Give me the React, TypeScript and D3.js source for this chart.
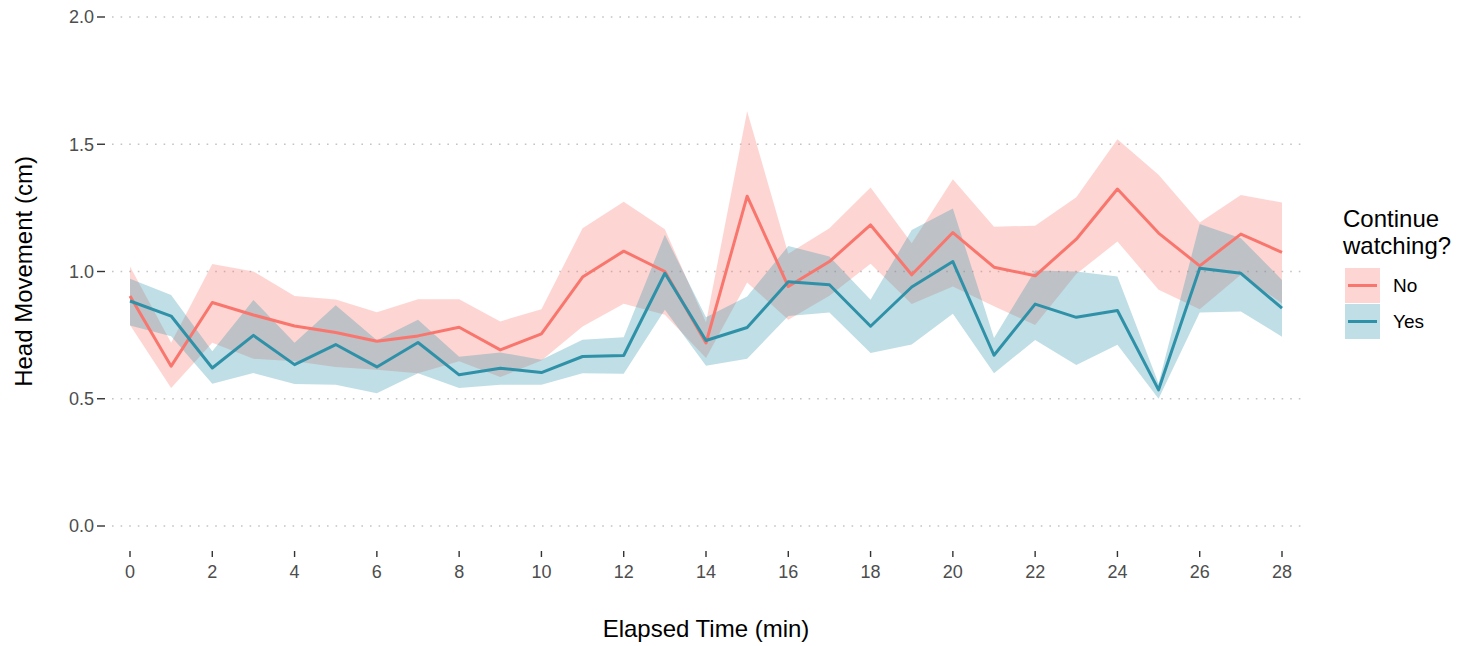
import { useMemo } from "react";
import * as d3 from "d3";

// elapsed minutes
const minutes = [0, 1, 2, 3, 4, 5, 6, 7, 8, 9, 10, 11, 12, 13, 14, 15, 16, 17, 18, 19, 20, 21, 22, 23, 24, 25, 26, 27, 28];

// "No" group: mean + ribbon
const noMean = [0.904, 0.628, 0.878, 0.829, 0.786, 0.76, 0.726, 0.747, 0.781, 0.692, 0.755, 0.978, 1.08, 1.0, 0.719, 1.296, 0.941, 1.039, 1.183, 0.987, 1.153, 1.017, 0.983, 1.127, 1.324, 1.151, 1.022, 1.147, 1.075];
const noUpper = [1.02, 0.72, 1.029, 1.0, 0.904, 0.89, 0.84, 0.891, 0.891, 0.804, 0.852, 1.17, 1.274, 1.166, 0.8, 1.63, 1.07, 1.17, 1.33, 1.111, 1.362, 1.176, 1.18, 1.292, 1.52, 1.38, 1.193, 1.301, 1.271];
const noLower = [0.79, 0.542, 0.72, 0.657, 0.647, 0.625, 0.614, 0.6, 0.647, 0.585, 0.65, 0.784, 0.873, 0.83, 0.66, 0.957, 0.81, 0.905, 1.03, 0.872, 0.941, 0.863, 0.79, 0.99, 1.118, 0.928, 0.852, 0.987, 0.875];

// "Yes" group
const yesMean = [0.884, 0.825, 0.621, 0.749, 0.634, 0.713, 0.625, 0.721, 0.594, 0.62, 0.603, 0.666, 0.67, 0.993, 0.729, 0.78, 0.96, 0.948, 0.785, 0.939, 1.039, 0.671, 0.872, 0.82, 0.847, 0.535, 1.013, 0.993, 0.856];
const yesUpper = [0.972, 0.908, 0.687, 0.888, 0.72, 0.867, 0.73, 0.81, 0.665, 0.682, 0.653, 0.732, 0.742, 1.144, 0.82, 0.902, 1.1, 1.059, 0.889, 1.163, 1.248, 0.739, 1.004, 1.0, 0.98, 0.56, 1.187, 1.131, 0.967];
const yesLower = [0.788, 0.746, 0.559, 0.601, 0.558, 0.555, 0.522, 0.6, 0.542, 0.555, 0.555, 0.6, 0.598, 0.85, 0.63, 0.657, 0.825, 0.839, 0.68, 0.713, 0.834, 0.6, 0.731, 0.633, 0.712, 0.5, 0.839, 0.843, 0.744];

const yTicks = [0, 0.5, 1, 1.5, 2];
const xTicks = [0, 2, 4, 6, 8, 10, 12, 14, 16, 18, 20, 22, 24, 26, 28];

const groups = [
  { name: "No", color: "#F8766D", mean: noMean, upper: noUpper, lower: noLower },
  { name: "Yes", color: "#2E91A8", mean: yesMean, upper: yesUpper, lower: yesLower },
];

const FONT = "'Liberation Sans', Arial, sans-serif";

export default function App() {
  const width = 1477;
  const height = 646;

  const x = useMemo(() => d3.scaleLinear().domain([0, 28]).range([130, 1282]), []);
  const y = useMemo(() => d3.scaleLinear().domain([0, 2]).range([526, 17]), []);

  const ribbon = (g: (typeof groups)[number]) =>
    d3
      .area<number>()
      .x((d) => x(d))
      .y0((_, i) => y(g.lower[i]))
      .y1((_, i) => y(g.upper[i]))(minutes) || "";

  const line = (g: (typeof groups)[number]) =>
    d3
      .line<number>()
      .x((d) => x(d))
      .y((_, i) => y(g.mean[i]))(minutes) || "";

  return (
    <svg width={width} height={height} style={{ display: "block", position: "absolute", left: 0, top: 0 }}>
      <rect width={width} height={height} fill="#fff" />

      {/* grid + y axis */}
      {yTicks.map((t) => (
        <g key={t}>
          <line x1={112} x2={1306} y1={y(t)} y2={y(t)} stroke="#C4C4C4" strokeWidth={1.6} strokeDasharray="1.6 7" />
          <line x1={97} x2={105} y1={y(t)} y2={y(t)} stroke="#333" strokeWidth={1.4} />
          <text x={94} y={y(t)} dy="0.36em" textAnchor="end" fontFamily={FONT} fontSize={18} fill="#4D4D4D">
            {t.toFixed(1)}
          </text>
        </g>
      ))}

      {/* x axis ticks */}
      {xTicks.map((t) => (
        <g key={t}>
          <line x1={x(t)} x2={x(t)} y1={551} y2={557} stroke="#333" strokeWidth={1.4} />
          <text x={x(t)} y={578} textAnchor="middle" fontFamily={FONT} fontSize={18} fill="#4D4D4D">
            {t}
          </text>
        </g>
      ))}

      {/* ribbons */}
      {groups.map((g) => (
        <path key={g.name + "r"} d={ribbon(g)} fill={g.color} fillOpacity={0.3} stroke="none" />
      ))}

      {/* lines */}
      {groups.map((g) => (
        <path key={g.name + "l"} d={line(g)} fill="none" stroke={g.color} strokeWidth={3} strokeLinejoin="round" />
      ))}

      {/* axis titles */}
      <text x={706} y={637} textAnchor="middle" fontFamily={FONT} fontSize={24} fill="#000">
        Elapsed Time (min)
      </text>
      <text
        transform={`translate(32, ${y(1)}) rotate(-90)`}
        textAnchor="middle"
        fontFamily={FONT}
        fontSize={24}
        fill="#000"
      >
        Head Movement (cm)
      </text>

      {/* legend */}
      <text x={1343} y={227} fontFamily={FONT} fontSize={24} fill="#000">
        Continue
      </text>
      <text x={1343} y={254} fontFamily={FONT} fontSize={24} fill="#000">
        watching?
      </text>
      {groups.map((g, i) => {
        const top = 268 + i * 36;
        return (
          <g key={g.name + "k"}>
            <rect x={1345} y={top} width={35} height={35} fill={g.color} fillOpacity={0.3} />
            <line x1={1348} x2={1377} y1={top + 17.5} y2={top + 17.5} stroke={g.color} strokeWidth={3} />
            <text x={1393} y={top + 17.5} dy="0.36em" fontFamily={FONT} fontSize={19} fill="#000">
              {g.name}
            </text>
          </g>
        );
      })}
    </svg>
  );
}
